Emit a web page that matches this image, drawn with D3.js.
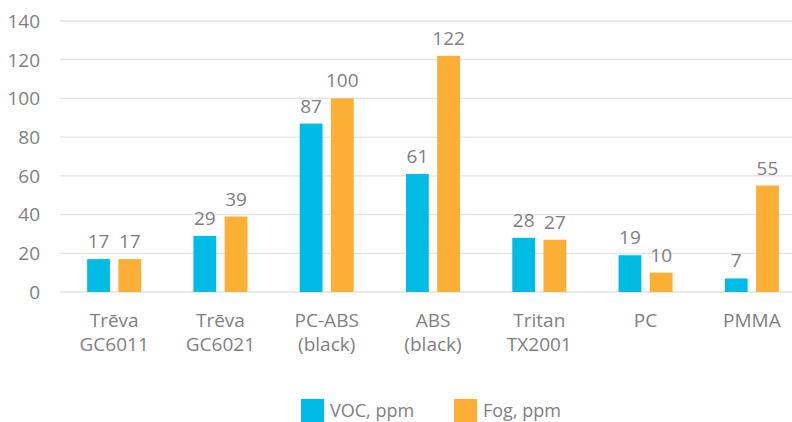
<!DOCTYPE html>
<html><head><meta charset="utf-8">
<script src="https://cdn.jsdelivr.net/npm/d3@7"></script>
<style>body{margin:0;background:#fff}svg text{font-family:"Open Sans",sans-serif;fill:#7f7f7f}</style>
</head><body><svg id="c" width="792" height="422"></svg>
<script>
const categories = [["Trēva","GC6011"],["Trēva","GC6021"],["PC-ABS","(black)"],["ABS","(black)"],["Tritan","TX2001"],["PC"],["PMMA"]];
const seriesNames = ["VOC, ppm","Fog, ppm"];
const vocValues = [17,29,87,61,28,19,7];
const fogValues = [17,39,100,122,27,10,55];
const yTicks = [0,20,40,60,80,100,120,140];
const colors = ["#00BBE3","#FBAF35"];

const svg = d3.select("#c");
const fs = 19;
const x0 = d3.scaleBand().domain(d3.range(categories.length)).range([61,805]);
const x1 = d3.scaleBand().domain([0,1]).range([0,54]).paddingInner(0.27);
const y = d3.scaleLinear().domain([0,140]).range([292,21]);

// grid
svg.append("g").selectAll("line").data(yTicks).join("line")
  .attr("x1",60).attr("x2",792).attr("y1",d=>y(d)).attr("y2",d=>y(d))
  .attr("stroke","#e3e3e3").attr("stroke-width",1.3);
// y tick labels
svg.append("g").selectAll("text").data(yTicks).join("text")
  .attr("x",40).attr("y",d=>y(d)).attr("dy","0.36em").attr("text-anchor","end")
  .attr("font-size",fs).text(d=>d);

const data = categories.map((c,i)=>({i, vals:[vocValues[i],fogValues[i]]}));
const g = svg.append("g").selectAll("g").data(data).join("g")
  .attr("transform",d=>`translate(${x0(d.i)+x0.bandwidth()/2-27},0)`);
g.selectAll("rect").data(d=>d.vals.map((v,k)=>({v,k}))).join("rect")
  .attr("x",d=>x1(d.k)).attr("width",x1.bandwidth())
  .attr("y",d=>y(d.v)).attr("height",d=>y(0)-y(d.v)).attr("fill",d=>colors[d.k]);
g.selectAll("text.v").data(d=>d.vals.map((v,k)=>({v,k}))).join("text").attr("class","v")
  .attr("x",d=>x1(d.k)+x1.bandwidth()/2).attr("y",d=>y(d.v)-11)
  .attr("text-anchor","middle").attr("font-size",fs).text(d=>d.v);

// x labels
const xl = svg.append("g").selectAll("text").data(categories).join("text")
  .attr("text-anchor","middle").attr("font-size",fs)
  .attr("transform",(d,i)=>`translate(${x0(i)+x0.bandwidth()/2},327)`);
xl.selectAll("tspan").data(d=>d).join("tspan").attr("x",0).attr("y",(d,j)=>j*24).text(d=>d);

// legend
const legX = [301,454];
const lg = svg.append("g").selectAll("g").data(seriesNames).join("g")
  .attr("transform",(d,i)=>`translate(${legX[i]},399)`);
lg.append("rect").attr("width",23).attr("height",23).attr("fill",(d,i)=>colors[i]);
lg.append("text").attr("x",29).attr("y",18).attr("font-size",fs-1).text(d=>d);
</script></body></html>
